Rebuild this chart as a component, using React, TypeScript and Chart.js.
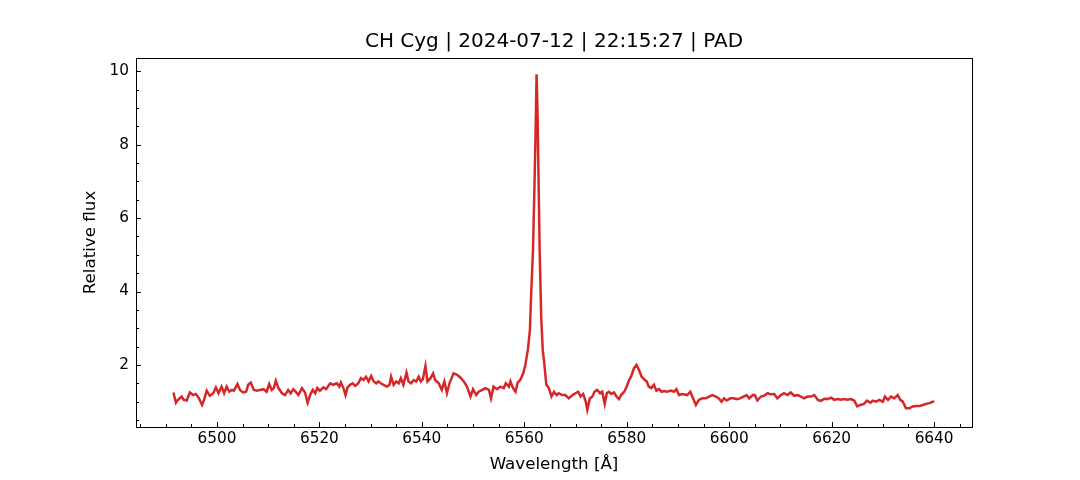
import React, { useEffect, useRef } from "react";
import { Chart, registerables } from "chart.js";

Chart.register(...registerables);

const TITLE = "CH Cyg | 2024-07-12 | 22:15:27 | PAD";
const X_LABEL = "Wavelength [Å]";
const Y_LABEL = "Relative flux";

const WAVELENGTH = [
  6491.5, 6492.0, 6492.4, 6493.1, 6493.5, 6494.1, 6494.7, 6495.4, 6495.9, 6496.5,
  6497.1, 6497.5, 6498.0, 6498.6, 6499.3, 6499.8, 6500.3, 6500.9, 6501.4, 6501.9,
  6502.4, 6502.9, 6503.3, 6504.0, 6504.5, 6505.1, 6505.7, 6506.1, 6506.6, 6507.2,
  6507.9, 6508.4, 6509.1, 6509.7, 6510.2, 6510.7, 6511.1, 6511.5, 6512.0, 6512.7,
  6513.3, 6513.9, 6514.4, 6514.9, 6515.4, 6515.9, 6516.6, 6517.2, 6517.7, 6518.2,
  6518.7, 6519.2, 6519.6, 6520.1, 6520.8, 6521.3, 6522.1, 6522.7, 6523.4, 6523.9,
  6524.2, 6524.7, 6525.1, 6525.5, 6526.0, 6526.5, 6527.0, 6527.6, 6528.1, 6528.6,
  6529.1, 6529.6, 6530.1, 6530.6, 6531.1, 6531.5, 6532.0, 6532.5, 6533.2, 6533.7,
  6534.0, 6534.5, 6535.0, 6535.5, 6535.9, 6536.4, 6537.0, 6537.4, 6537.9, 6538.4,
  6538.9, 6539.4, 6539.8, 6540.2, 6540.7, 6541.1, 6541.7, 6542.2, 6542.6, 6543.3,
  6543.9, 6544.4, 6544.9, 6545.4, 6546.2, 6546.9, 6547.5, 6548.2, 6548.8, 6549.5,
  6550.0, 6550.6, 6551.1, 6551.8, 6552.4, 6553.1, 6553.5, 6554.0, 6554.7, 6555.3,
  6556.0, 6556.4, 6557.0, 6557.3, 6557.8, 6558.3, 6558.7, 6559.2, 6559.8, 6560.2,
  6560.7, 6560.9, 6561.1, 6561.3, 6561.7, 6562.0, 6562.2, 6562.4, 6562.6, 6562.8,
  6563.0, 6563.3, 6563.6, 6563.9, 6564.3, 6564.8, 6565.3, 6565.8, 6566.3, 6566.7,
  6567.4, 6568.0, 6568.7, 6569.4, 6570.0, 6570.5, 6571.0, 6571.5, 6572.0, 6572.3,
  6572.8, 6573.3, 6573.7, 6574.2, 6574.8, 6575.2, 6575.7, 6576.1, 6576.5, 6577.0,
  6577.5, 6578.0, 6578.5, 6578.9, 6579.5, 6580.0, 6580.4, 6580.9, 6581.4, 6581.9,
  6582.4, 6582.9, 6583.4, 6583.9, 6584.3, 6584.8, 6585.3, 6585.8, 6586.3, 6586.8,
  6587.3, 6587.9, 6588.6, 6589.2, 6589.7, 6590.2, 6590.9, 6591.8, 6592.4, 6592.8,
  6593.5, 6594.1, 6594.8, 6595.4, 6596.1, 6596.7, 6597.4, 6598.0, 6598.5, 6599.0,
  6599.5, 6600.2, 6600.8, 6601.5, 6602.1, 6602.8, 6603.4, 6603.9, 6604.6, 6605.0,
  6605.5, 6606.2, 6606.8, 6607.5, 6608.1, 6608.8, 6609.4, 6610.1, 6610.7, 6611.4,
  6612.0, 6612.7, 6613.4, 6614.0, 6614.6, 6615.3, 6616.0, 6616.6, 6617.3, 6617.9,
  6618.6, 6619.2, 6619.9, 6620.5, 6621.2, 6621.8, 6622.5, 6623.1, 6623.8, 6624.4,
  6625.0, 6625.6, 6626.3, 6626.9, 6627.6, 6628.0, 6628.7, 6629.3, 6630.0, 6630.4,
  6631.0, 6631.6, 6632.2, 6632.9, 6633.4, 6633.9, 6634.5, 6635.2, 6635.8, 6636.5,
  6637.1, 6637.8, 6638.4, 6639.1, 6639.8, 6640.0,
];

const FLUX = [
  1.25, 0.97, 1.05, 1.14, 1.05, 1.03, 1.25, 1.18, 1.21, 1.09,
  0.91, 1.05, 1.30, 1.16, 1.23, 1.39, 1.23, 1.41, 1.23, 1.41,
  1.27, 1.32, 1.30, 1.48, 1.32, 1.25, 1.27, 1.46, 1.52, 1.32,
  1.30, 1.32, 1.34, 1.27, 1.48, 1.32, 1.37, 1.57, 1.37, 1.23,
  1.18, 1.32, 1.23, 1.34, 1.27, 1.18, 1.37, 1.25, 0.97, 1.18,
  1.32, 1.23, 1.37, 1.30, 1.39, 1.34, 1.50, 1.46, 1.50, 1.41,
  1.52, 1.37, 1.18, 1.39, 1.46, 1.50, 1.43, 1.50, 1.64, 1.59,
  1.68, 1.55, 1.70, 1.55, 1.50, 1.55, 1.50, 1.46, 1.41, 1.46,
  1.68, 1.46, 1.55, 1.50, 1.64, 1.46, 1.79, 1.55, 1.50, 1.59,
  1.55, 1.68, 1.55, 1.61, 1.97, 1.55, 1.64, 1.77, 1.59, 1.50,
  1.32, 1.55, 1.23, 1.50, 1.77, 1.73, 1.66, 1.55, 1.41, 1.14,
  1.34, 1.18, 1.27, 1.32, 1.37, 1.32, 1.09, 1.41, 1.34, 1.41,
  1.37, 1.50, 1.41, 1.55, 1.37, 1.27, 1.52, 1.59, 1.77, 2.00,
  2.41, 2.68, 2.95, 3.77, 5.13, 6.94, 8.30, 9.92, 8.76, 6.94,
  5.13, 3.31, 2.41, 2.05, 1.46, 1.37, 1.14, 1.27, 1.18, 1.23,
  1.18, 1.18, 1.09, 1.18, 1.23, 1.27, 1.14, 1.21, 1.00, 0.78,
  1.09, 1.14, 1.27, 1.32, 1.23, 1.27, 0.94, 1.23, 1.27, 1.21,
  1.25, 1.14, 1.07, 1.18, 1.27, 1.41, 1.57, 1.70, 1.91, 2.00,
  1.86, 1.68, 1.61, 1.55, 1.41, 1.37, 1.46, 1.30, 1.34, 1.27,
  1.29, 1.27, 1.30, 1.27, 1.34, 1.18, 1.21, 1.18, 1.27, 1.14,
  0.91, 1.05, 1.09, 1.09, 1.14, 1.18, 1.14, 1.09, 1.00, 1.09,
  1.03, 1.09, 1.09, 1.07, 1.09, 1.14, 1.18, 1.09, 1.18, 1.18,
  1.03, 1.14, 1.16, 1.23, 1.20, 1.21, 1.09, 1.18, 1.23, 1.18,
  1.25, 1.16, 1.18, 1.14, 1.09, 1.14, 1.14, 1.18, 1.05, 1.02,
  1.08, 1.07, 1.11, 1.05, 1.07, 1.05, 1.07, 1.05, 1.07, 1.03,
  0.87, 0.91, 0.94, 1.03, 0.97, 1.03, 1.00, 1.05, 1.00, 1.14,
  1.05, 1.14, 1.09, 1.18, 1.05, 1.00, 0.82, 0.82, 0.87, 0.88,
  0.88, 0.91, 0.94, 0.96, 1.00, 1.02,
];

const X_MIN = 6484.2;
const X_MAX = 6647.4;
const Y_MIN = 0.31;
const Y_MAX = 10.36;
const X_MAJOR = 20;
const X_MINOR = 5;
const Y_MAJOR = 2;
const Y_MINOR = 0.5;

const FONT = "'DejaVu Sans', sans-serif";
const LINE_COLOR = "#d62728";

const mplAxesPlugin = {
  id: "mplAxes",
  afterDraw(chart: any) {
    const { ctx, chartArea: a, scales } = chart;
    const xs = scales.x;
    const ys = scales.y;
    const left = Math.round(a.left);
    const right = Math.round(a.right);
    const top = Math.round(a.top);
    const bottom = Math.round(a.bottom);
    ctx.save();
    ctx.strokeStyle = "#000";
    ctx.lineWidth = 1;
    const isMajor = (v: number, step: number) =>
      Math.abs(v / step - Math.round(v / step)) < 1e-6;
    const x0 = Math.ceil(X_MIN / X_MINOR) * X_MINOR;
    for (let v = x0; v <= X_MAX + 1e-9; v += X_MINOR) {
      const len = isMajor(v, X_MAJOR) ? 5 : 3;
      const px = Math.round(xs.getPixelForValue(v)) + 0.5;
      ctx.beginPath();
      ctx.moveTo(px, bottom + 0.5);
      ctx.lineTo(px, bottom - len);
      ctx.stroke();
    }
    const y0 = Math.ceil(Y_MIN / Y_MINOR) * Y_MINOR;
    for (let v = y0; v <= Y_MAX + 1e-9; v += Y_MINOR) {
      const len = isMajor(v, Y_MAJOR) ? 5 : 3;
      const py = Math.round(ys.getPixelForValue(v)) + 0.5;
      ctx.beginPath();
      ctx.moveTo(left, py);
      ctx.lineTo(left + len, py);
      ctx.stroke();
    }
    ctx.strokeRect(left + 0.5, top + 0.5, right - left, bottom - top);
    ctx.fillStyle = "#000";
    ctx.font = `20px ${FONT}`;
    ctx.textAlign = "center";
    ctx.textBaseline = "middle";
    ctx.fillText(TITLE, (a.left + a.right) / 2, 42);
    ctx.restore();
  },
};

export default function App() {
  const ref = useRef<HTMLCanvasElement | null>(null);

  useEffect(() => {
    if (!ref.current) return;
    const n = Math.min(WAVELENGTH.length, FLUX.length);
    const points = [];
    for (let i = 0; i < n; i++) points.push({ x: WAVELENGTH[i], y: FLUX[i] });

    const chart = new Chart(ref.current, {
      type: "line",
      data: {
        datasets: [
          {
            data: points,
            borderColor: LINE_COLOR,
            borderWidth: 2.5,
            pointRadius: 0,
            tension: 0,
            fill: false,
          },
        ],
      },
      options: {
        animation: false,
        responsive: false,
        devicePixelRatio: 1,
        layout: { padding: { left: 0, right: 108, top: 58, bottom: 0 } },
        plugins: {
          legend: { display: false },
          tooltip: { enabled: false },
          title: { display: false },
        },
        scales: {
          x: {
            type: "linear",
            min: X_MIN,
            max: X_MAX,
            afterFit: (s: any) => {
              s.height = 53;
            },
            grid: { display: false, drawTicks: false },
            border: { display: false },
            ticks: {
              stepSize: X_MAJOR,
              includeBounds: false,
              maxRotation: 0,
              autoSkip: false,
              padding: 3,
              color: "#000",
              font: { family: FONT, size: 15.3 },
              callback: (v: any) => String(v),
            },
            title: {
              display: true,
              text: X_LABEL,
              color: "#000",
              font: { family: FONT, size: 16.7 },
              padding: { top: 0, bottom: 5 },
            },
          },
          y: {
            type: "linear",
            min: Y_MIN,
            max: Y_MAX,
            afterFit: (s: any) => {
              s.width = 136;
            },
            grid: { display: false, drawTicks: false },
            border: { display: false },
            ticks: {
              stepSize: Y_MAJOR,
              includeBounds: false,
              autoSkip: false,
              padding: 7,
              color: "#000",
              font: { family: FONT, size: 15.3 },
              callback: (v: any) => String(v),
            },
            title: {
              display: true,
              text: Y_LABEL,
              color: "#000",
              font: { family: FONT, size: 16.7 },
              padding: { top: 81, bottom: 0 },
            },
          },
        },
      },
      plugins: [mplAxesPlugin],
    });
    return () => chart.destroy();
  }, []);

  return (
    <div style={{ position: "absolute", left: 0, top: 0, width: 1080, height: 480, background: "#fff" }}>
      <canvas ref={ref} width={1080} height={480} style={{ display: "block", width: 1080, height: 480 }} />
    </div>
  );
}
